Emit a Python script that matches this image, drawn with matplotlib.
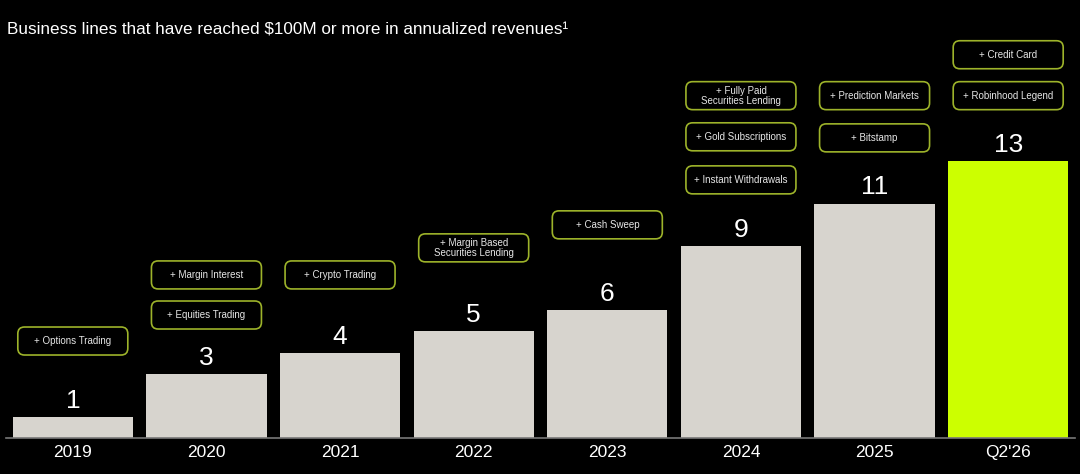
import matplotlib.pyplot as plt
from matplotlib.patches import FancyBboxPatch

# Datos
periodos = ["2019", "2020", "2021", "2022", "2023", "2024", "2025", "Q2'26"]
lineas = [1, 3, 4, 5, 6, 9, 11, 13]
nuevas = [
    ["+ Options Trading"],
    ["+ Equities Trading", "+ Margin Interest"],
    ["+ Crypto Trading"],
    ["+ Margin Based\nSecurities Lending"],
    ["+ Cash Sweep"],
    ["+ Instant Withdrawals", "+ Gold Subscriptions", "+ Fully Paid\nSecurities Lending"],
    ["+ Bitstamp", "+ Prediction Markets"],
    ["+ Robinhood Legend", "+ Credit Card"],
]
# altura (en unidades del eje) del centro de cada caja
pos_cajas = [
    [4.55],
    [5.77, 7.65],
    [7.65],
    [8.92],
    [10.0],
    [12.11, 14.13, 16.06],
    [14.08, 16.06],
    [16.06, 17.98],
]

FONDO = "black"
GRIS = "#d7d4ce"
LIMA = "#ccff00"
BORDE = "#9db32a"

plt.rcParams['font.family'] = ['Liberation Sans', 'DejaVu Sans']

fig = plt.figure(figsize=(10.8, 4.74), dpi=100, facecolor=FONDO)
ax = fig.add_axes([6 / 1080, 36 / 474, 1069 / 1080, 405 / 474])
ax.set_facecolor(FONDO)

x = list(range(len(periodos)))
colores = [GRIS] * (len(periodos) - 1) + [LIMA]
ax.bar(x, lineas, width=0.9, color=colores)

ax.set_xlim(-0.5, len(periodos) - 0.5)
ax.set_ylim(0, 19)

for xi, v in zip(x, lineas):
    ax.annotate(str(v), (xi, v), xytext=(0, 6.5), textcoords="offset points",
                ha="center", va="baseline", color="white", fontsize=19)

# cajas con bordes redondeados
ancho_px, alto_px = 110, 28
px_x = 1069 / (len(periodos))   # pixeles por unidad x
px_y = 405 / 19                 # pixeles por unidad y
aspecto = px_x / px_y
w = ancho_px / px_x
h = alto_px / px_y
for xi, textos, ys in zip(x, nuevas, pos_cajas):
    for t, yc in zip(textos, ys):
        caja = FancyBboxPatch((xi - w / 2, yc - h / 2), w, h,
                              boxstyle="round,pad=0,rounding_size=0.05",
                              mutation_aspect=aspecto,
                              facecolor="none", edgecolor=BORDE, linewidth=1.2)
        ax.add_patch(caja)
        ax.text(xi, yc, t, ha="center", va="center", color="#e6e6e6",
                fontsize=7, linespacing=1.0)

for lado in ["top", "right", "left"]:
    ax.spines[lado].set_visible(False)
ax.spines["bottom"].set_color("#777777")
ax.spines["bottom"].set_linewidth(1.2)
ax.set_yticks([])
ax.set_xticks(x)
ax.set_xticklabels(periodos, color="white", fontsize=12.5)
ax.tick_params(axis="x", length=0, pad=5)

fig.text(7 / 1080, 1 - 30 / 474, "Business lines that have reached $100M or more in annualized revenues¹",
         color="white", fontsize=12.3, va="center", ha="left")

fig.savefig("out.png", dpi=100, facecolor=FONDO)
